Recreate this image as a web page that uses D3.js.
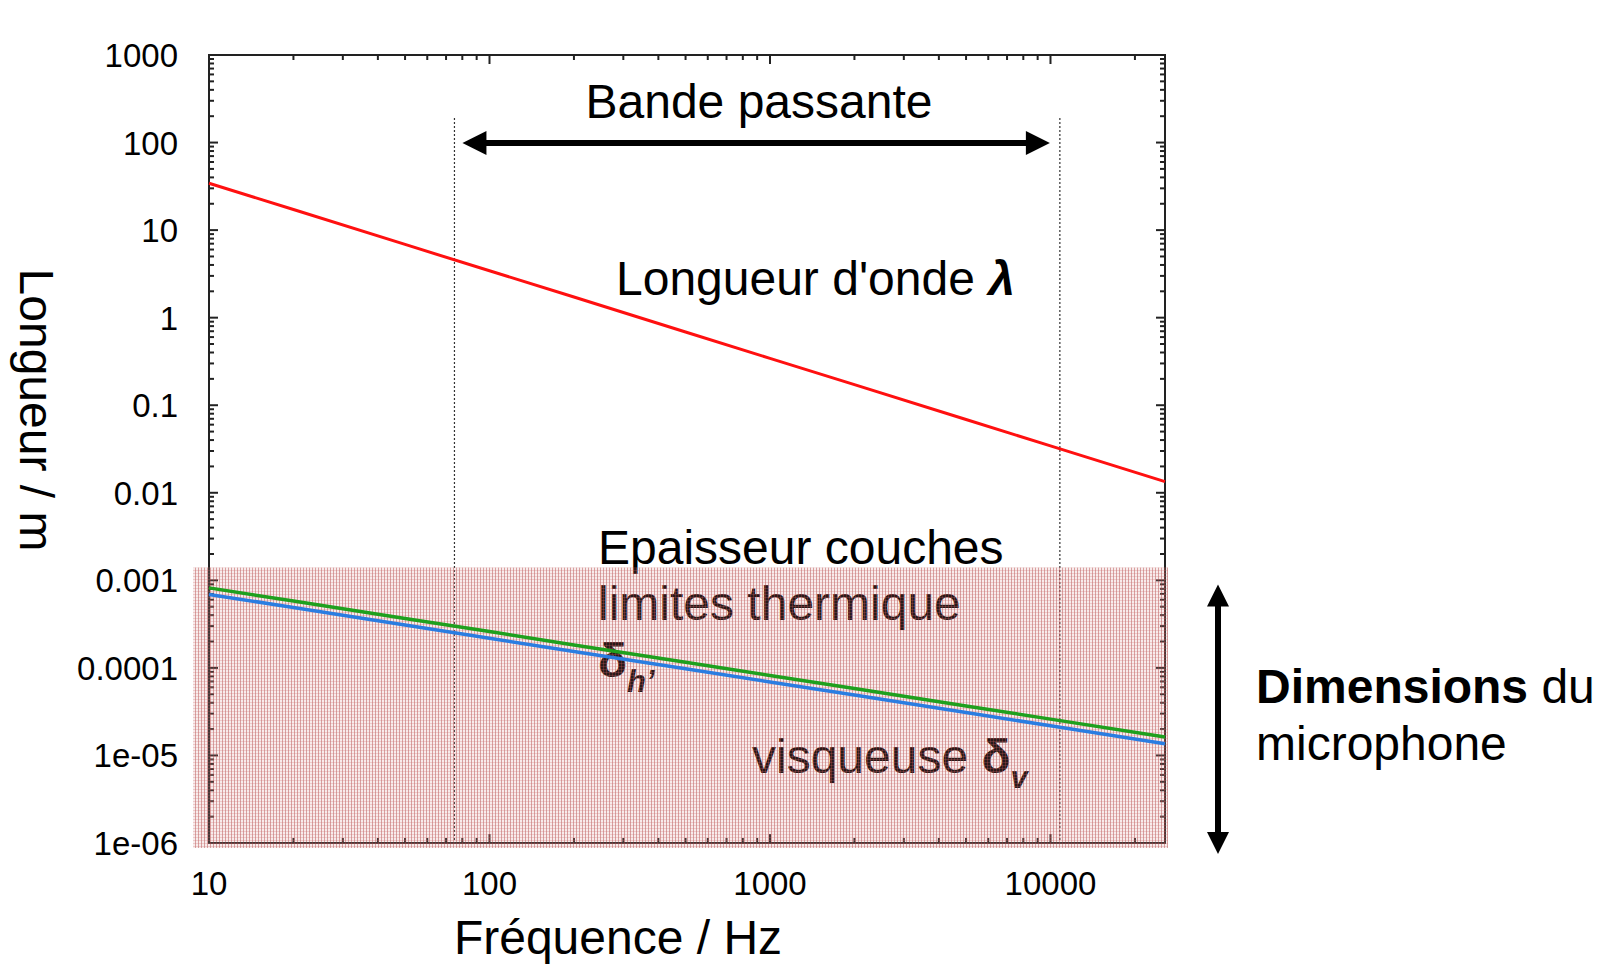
<!DOCTYPE html>
<html>
<head>
<meta charset="utf-8">
<script src="https://cdn.jsdelivr.net/npm/d3@7"></script>
<style>
  body { margin: 0; background: #fff; }
  svg { display: block; }
  text { font-family: "Liberation Sans", Arial, Helvetica, sans-serif; fill: #000; }
</style>
</head>
<body>
<div id="chart"></div>
<script>
// values
const freq = [10, 20, 50, 100, 200, 500, 1000, 2000, 5000, 10000, 25600];
const wavelength = [34.3, 17.2, 6.86, 3.43, 1.72, 0.686, 0.343, 0.172, 0.0686, 0.0343, 0.0134];
const deltaThermal = [8.2e-4, 5.8e-4, 3.67e-4, 2.6e-4, 1.83e-4, 1.16e-4, 8.2e-5, 5.8e-5, 3.67e-5, 2.6e-5, 1.62e-5];
const deltaViscous = [6.9e-4, 4.9e-4, 3.09e-4, 2.18e-4, 1.54e-4, 9.8e-5, 6.9e-5, 4.9e-5, 3.09e-5, 2.18e-5, 1.36e-5];

const xTicks = [10, 100, 1000, 10000];
const xTickLabels = ["10", "100", "1000", "10000"];
const yTicks = [1000, 100, 10, 1, 0.1, 0.01, 0.001, 0.0001, 1e-5, 1e-6];
const yTickLabels = ["1000", "100", "10", "1", "0.1", "0.01", "0.001", "0.0001", "1e-05", "1e-06"];

const bandEdges = [75, 10800];   // Hz, dotted verticals
const micTop = 1.4e-3;           // m, top of shaded zone

const WIDTH = 1609, HEIGHT = 973;
const PLOT = { left: 209, right: 1165, top: 55, bottom: 843 };
const FS = 48;

const svg = d3.select("#chart").append("svg")
    .attr("width", WIDTH)
    .attr("height", HEIGHT);

const xScale = d3.scaleLog().domain([10, 25600]).range([PLOT.left, PLOT.right]);
const yScale = d3.scaleLog().domain([1e-6, 1000]).range([PLOT.bottom, PLOT.top]);

const defs = svg.append("defs");
const pat = defs.append("pattern")
    .attr("id", "grille")
    .attr("patternUnits", "userSpaceOnUse")
    .attr("width", 3)
    .attr("height", 3);
pat.append("rect").attr("width", 3).attr("height", 3).attr("fill", "rgba(215,150,150,0.18)");
pat.append("rect").attr("width", 1).attr("height", 3).attr("fill", "rgba(170,55,55,0.42)");
pat.append("rect").attr("width", 3).attr("height", 1).attr("fill", "rgba(205,110,110,0.26)");

// frame
svg.append("rect")
    .attr("x", PLOT.left)
    .attr("y", PLOT.top)
    .attr("width", PLOT.right - PLOT.left)
    .attr("height", PLOT.bottom - PLOT.top)
    .attr("fill", "none")
    .attr("stroke", "#222")
    .attr("stroke-width", 2);

// ticks, mirrored, pointing inward
const isMajor = v => Math.abs(Math.log10(v) - Math.round(Math.log10(v))) < 1e-9;
const tickG = svg.append("g").attr("stroke", "#222").attr("stroke-width", 2);

xScale.ticks(30).filter(v => v > 10 && v < 25600).forEach(v => {
    const len = isMajor(v) ? 9 : 5;
    const x = xScale(v);
    tickG.append("line").attr("x1", x).attr("x2", x).attr("y1", PLOT.bottom).attr("y2", PLOT.bottom - len);
    tickG.append("line").attr("x1", x).attr("x2", x).attr("y1", PLOT.top).attr("y2", PLOT.top + len);
});
yScale.ticks(30).filter(v => v > 1e-6 && v < 1000).forEach(v => {
    const len = isMajor(v) ? 9 : 5;
    const y = yScale(v);
    tickG.append("line").attr("x1", PLOT.left).attr("x2", PLOT.left + len).attr("y1", y).attr("y2", y);
    tickG.append("line").attr("x1", PLOT.right).attr("x2", PLOT.right - len).attr("y1", y).attr("y2", y);
});

// tick labels
svg.append("g").selectAll("text")
    .data(yTicks)
    .join("text")
    .attr("x", PLOT.left - 31)
    .attr("y", d => yScale(d) + 12)
    .attr("text-anchor", "end")
    .attr("font-size", 33)
    .text((d, i) => yTickLabels[i]);

svg.append("g").selectAll("text")
    .data(xTicks)
    .join("text")
    .attr("x", d => xScale(d))
    .attr("y", PLOT.bottom + 52)
    .attr("text-anchor", "middle")
    .attr("font-size", 33)
    .text((d, i) => xTickLabels[i]);

// axis titles
svg.append("text")
    .attr("x", 618)
    .attr("y", 954)
    .attr("text-anchor", "middle")
    .attr("font-size", FS)
    .text("Fréquence / Hz");

svg.append("text")
    .attr("transform", "translate(20,410) rotate(90)")
    .attr("text-anchor", "middle")
    .attr("font-size", FS)
    .text("Longueur / m");

// bandwidth dotted lines
svg.append("g").selectAll("line")
    .data(bandEdges)
    .join("line")
    .attr("x1", d => xScale(d))
    .attr("x2", d => xScale(d))
    .attr("y1", 118)
    .attr("y2", PLOT.bottom)
    .attr("stroke", "#333")
    .attr("stroke-width", 1.2)
    .attr("stroke-dasharray", "2,2");

// double arrows
function arrowH(x1, x2, y) {
    const g = svg.append("g").attr("fill", "#000");
    g.append("rect").attr("x", x1 + 18).attr("y", y - 3).attr("width", x2 - x1 - 36).attr("height", 6);
    g.append("path").attr("d", `M${x1},${y}L${x1 + 24},${y - 12}L${x1 + 24},${y + 12}Z`);
    g.append("path").attr("d", `M${x2},${y}L${x2 - 24},${y - 12}L${x2 - 24},${y + 12}Z`);
}
function arrowV(x, y1, y2) {
    const g = svg.append("g").attr("fill", "#000");
    g.append("rect").attr("x", x - 3).attr("y", y1 + 18).attr("width", 6).attr("height", y2 - y1 - 36);
    g.append("path").attr("d", `M${x},${y1}L${x - 11},${y1 + 22}L${x + 11},${y1 + 22}Z`);
    g.append("path").attr("d", `M${x},${y2}L${x - 11},${y2 - 22}L${x + 11},${y2 - 22}Z`);
}
arrowH(xScale(bandEdges[0]) + 8, xScale(bandEdges[1]) - 10, 143);
arrowV(1218, yScale(micTop) + 17, yScale(1e-6) + 11);

// annotations
svg.append("text")
    .attr("x", 759)
    .attr("y", 118)
    .attr("text-anchor", "middle")
    .attr("font-size", FS)
    .text("Bande passante");

const lam = svg.append("text").attr("x", 616).attr("y", 295).attr("font-size", FS);
lam.append("tspan").text("Longueur d'onde ");
lam.append("tspan").attr("font-weight", "bold").attr("font-style", "italic").text("λ");

svg.append("text").attr("x", 598).attr("y", 564).attr("font-size", FS).text("Epaisseur couches");
svg.append("text").attr("x", 598).attr("y", 620).attr("font-size", FS).text("limites thermique");

const dh = svg.append("text").attr("x", 598).attr("y", 677).attr("font-size", FS).attr("font-weight", "bold");
dh.append("tspan").text("δ");
dh.append("tspan").attr("font-size", 31).attr("font-style", "italic").attr("dy", 15).text("h’");

const dv = svg.append("text").attr("x", 752).attr("y", 773).attr("font-size", FS);
dv.append("tspan").text("visqueuse ");
dv.append("tspan").attr("font-weight", "bold").text("δ");
dv.append("tspan").attr("font-size", 31).attr("font-weight", "bold").attr("font-style", "italic").attr("dy", 15).text("v");

const dim = svg.append("text").attr("x", 1256).attr("y", 703).attr("font-size", FS);
dim.append("tspan").attr("font-weight", "bold").text("Dimensions");
dim.append("tspan").text(" du");
svg.append("text").attr("x", 1256).attr("y", 760).attr("font-size", FS).text("microphone");

// shaded zone for the microphone dimensions (overlays frame and text)
svg.append("rect")
    .attr("x", xScale(10) - 16)
    .attr("y", yScale(micTop))
    .attr("width", xScale(25600) + 3 - (xScale(10) - 16))
    .attr("height", yScale(1e-6) + 5 - yScale(micTop))
    .attr("fill", "url(#grille)");

// curves
const line = (ys) => d3.line()
    .x((d, i) => xScale(freq[i]))
    .y(d => yScale(d))(ys);

svg.append("path").attr("d", line(wavelength))
    .attr("fill", "none").attr("stroke", "#ff1010").attr("stroke-width", 3);
svg.append("path").attr("d", line(deltaThermal))
    .attr("fill", "none").attr("stroke", "#1ea01e").attr("stroke-width", 3.5);
svg.append("path").attr("d", line(deltaViscous))
    .attr("fill", "none").attr("stroke", "#2a7de1").attr("stroke-width", 3.5);
</script>
</body>
</html>
